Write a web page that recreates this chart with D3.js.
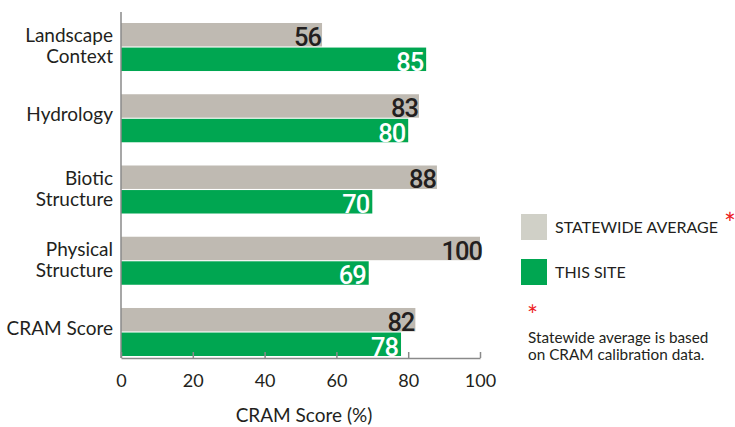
<!DOCTYPE html>
<html><head><meta charset="utf-8">
<script src="https://cdn.jsdelivr.net/npm/d3@7"></script>
<style>
body{margin:0;background:#fff;}
svg{display:block;}
text{font-family:Lato,"Open Sans",sans-serif;fill:#231f20;}
</style></head>
<body>
<script>
const categories = ["Landscape Context","Hydrology","Biotic Structure","Physical Structure","CRAM Score"];
const categoryLines = [["Landscape","Context"],["Hydrology"],["Biotic","Structure"],["Physical","Structure"],["CRAM Score"]];
const statewideAverage = [56,83,88,100,82];
const thisSite = [85,80,70,69,78];
const seriesNames = ["STATEWIDE AVERAGE","THIS SITE"];
const xTicks = [0,20,40,60,80,100];

const W=735,H=427;
const svg=d3.select("body").append("svg").attr("width",W).attr("height",H);
const x=d3.scaleLinear().domain([0,100]).range([121,480]);
const y=d3.scaleBand().domain(categories).range([23,356]).paddingInner(0.326).paddingOuter(0);
const ys=d3.scaleBand().domain(["avg","site"]).range([0,y.bandwidth()]).paddingInner(0.045);
const colors={avg:"#bfbab2",site:"#00a651"};

const rows=categories.map((c,i)=>({cat:c,lines:categoryLines[i],avg:statewideAverage[i],site:thisSite[i]}));

// bars
const g=svg.append("g");
rows.forEach(r=>{
  ["avg","site"].forEach(k=>{
    g.append("rect").attr("x",x(0)).attr("y",y(r.cat)+ys(k))
      .attr("width",x(r[k])-x(0)).attr("height",ys.bandwidth()).attr("fill",colors[k]);
  });
});
// value labels
rows.forEach(r=>{
  ["avg","site"].forEach(k=>{
    g.append("text")
      .attr("x",x(r[k])-(k==="avg"? (r[k]===100?-2:1):3))
      .attr("y",y(r.cat)+ys(k)+ys.bandwidth()-0.5)
      .attr("text-anchor","end")
      .style("font-family","Roboto,'Open Sans',sans-serif")
      .style("font-weight","500").style("font-size","25.5px")
      .style("letter-spacing","-1px")
      .style("fill",k==="avg"?"#231f20":"#ffffff")
      .text(r[k]);
  });
});

// y axis line
svg.append("line").attr("x1",x(0)).attr("x2",x(0)).attr("y1",12).attr("y2",358)
  .attr("stroke","#8a8a8a").attr("stroke-width",1.5);

// x axis
const xAxis=svg.append("g").attr("transform","translate(0,358)")
  .call(d3.axisBottom(x).tickValues(xTicks).tickSize(5).tickSizeOuter(0).tickPadding(10));
xAxis.select(".domain").attr("stroke","#8a8a8a").attr("stroke-width",1.5);
xAxis.selectAll(".tick line").attr("stroke","#8a8a8a").attr("stroke-width",1.5).attr("y1",-6).attr("y2",0);
xAxis.selectAll(".tick text").style("font-family","Lato,sans-serif").style("font-size","18px").attr("fill","#231f20").attr("dy","0.78em");

svg.append("text").attr("x",304).attr("y",422).attr("text-anchor","middle")
  .style("font-size","19px").text("CRAM Score (%)");

// category labels
rows.forEach(r=>{
  const cy=y(r.cat)+y.bandwidth()/2;
  const t=svg.append("text").attr("text-anchor","end").style("font-size","19px");
  if(r.lines.length===2){
    t.append("tspan").attr("x",113).attr("y",cy-5).text(r.lines[0]);
    t.append("tspan").attr("x",113).attr("y",cy+16).text(r.lines[1]);
  } else {
    t.append("tspan").attr("x",113).attr("y",cy+3).text(r.lines[0]);
  }
});

// legend
const leg=svg.append("g");
const legColors=["#d0d0c7","#00a651"];
seriesNames.forEach((s,i)=>{
  const yy=214+i*45;
  leg.append("rect").attr("x",521).attr("y",yy).attr("width",26).attr("height",26).attr("fill",legColors[i]);
  leg.append("text").attr("x",555).attr("y",yy+19).style("font-size","16px").text(s);
});
leg.append("text").attr("x",724).attr("y",234).style("font-size","28px").style("fill","#ed1c24").text("*");
leg.append("text").attr("x",527).attr("y",325).style("font-size","26px").style("fill","#ed1c24").text("*");
leg.append("text").attr("x",528).attr("y",343).style("font-size","15.3px").text("Statewide average is based");
leg.append("text").attr("x",528).attr("y",360).style("font-size","15.3px").text("on CRAM calibration data.");
</script>
</body></html>
